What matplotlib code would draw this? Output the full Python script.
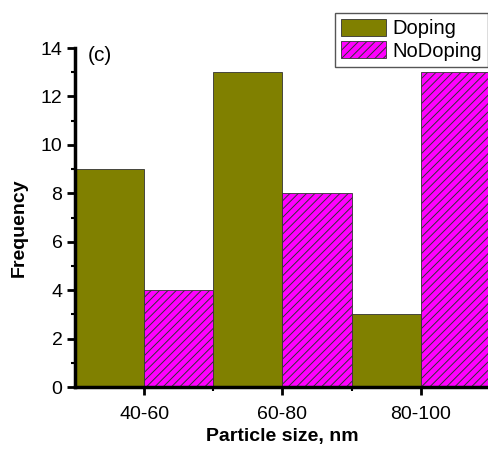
import matplotlib
matplotlib.use("Agg")
import matplotlib.pyplot as plt
from matplotlib.ticker import MultipleLocator, FixedLocator

categories = ["40-60", "60-80", "80-100"]
doping = [9, 13, 3]
nodoping = [4, 8, 13]

plt.rcParams['font.family'] = ['Liberation Sans', 'DejaVu Sans']
plt.rcParams['hatch.linewidth'] = 0.7

fig = plt.figure(figsize=(4.89, 4.5), dpi=100)
ax = fig.add_axes([75/489, 1-387/450, (490-75)/489, (387-48)/450])

pos = [1, 2, 3]
w = 0.5
ax.bar([p - w/2 for p in pos], doping, width=w, color='#808000',
       edgecolor='#333333', linewidth=0.6, label='Doping')
ax.bar([p + w/2 for p in pos], nodoping, width=w, color='#FF00FF',
       edgecolor='#333333', linewidth=0.6, hatch='////', label='NoDoping')

ax.set_xlim(0.5, 3.5)
ax.set_ylim(0, 14)
ax.set_xticks(pos)
ax.set_xticklabels(categories)
ax.xaxis.set_minor_locator(FixedLocator([1.5, 2.5]))
ax.yaxis.set_major_locator(MultipleLocator(2))
ax.yaxis.set_minor_locator(MultipleLocator(1))

for s in ['top', 'right']:
    ax.spines[s].set_visible(False)
for s in ['left', 'bottom']:
    ax.spines[s].set_linewidth(2.5)

ax.tick_params(axis='both', which='major', direction='out', length=6, width=2,
               labelsize=14, pad=3)
ax.tick_params(axis='both', which='minor', direction='out', length=3, width=1.5)
ax.tick_params(axis='x', which='major', pad=8)

ax.set_xlabel('Particle size, nm', fontsize=14, fontweight='bold', labelpad=3)
ax.set_ylabel('Frequency', fontsize=14, fontweight='bold')
ax.yaxis.set_label_coords(-0.113, 0.47)

ax.text(0.595, 13.7, '(c)', fontsize=15, va='center')

leg = ax.legend(loc='upper right', bbox_to_anchor=(488/489, 1-13/450),
                bbox_transform=fig.transFigure, fontsize=14.5, frameon=True,
                fancybox=False, edgecolor='#555555', framealpha=1,
                handlelength=2.25, handleheight=0.9, borderpad=0.3,
                labelspacing=0.15, handletextpad=0.3, borderaxespad=0)
leg.get_frame().set_linewidth(1.0)

fig.savefig('out.png', dpi=100)
